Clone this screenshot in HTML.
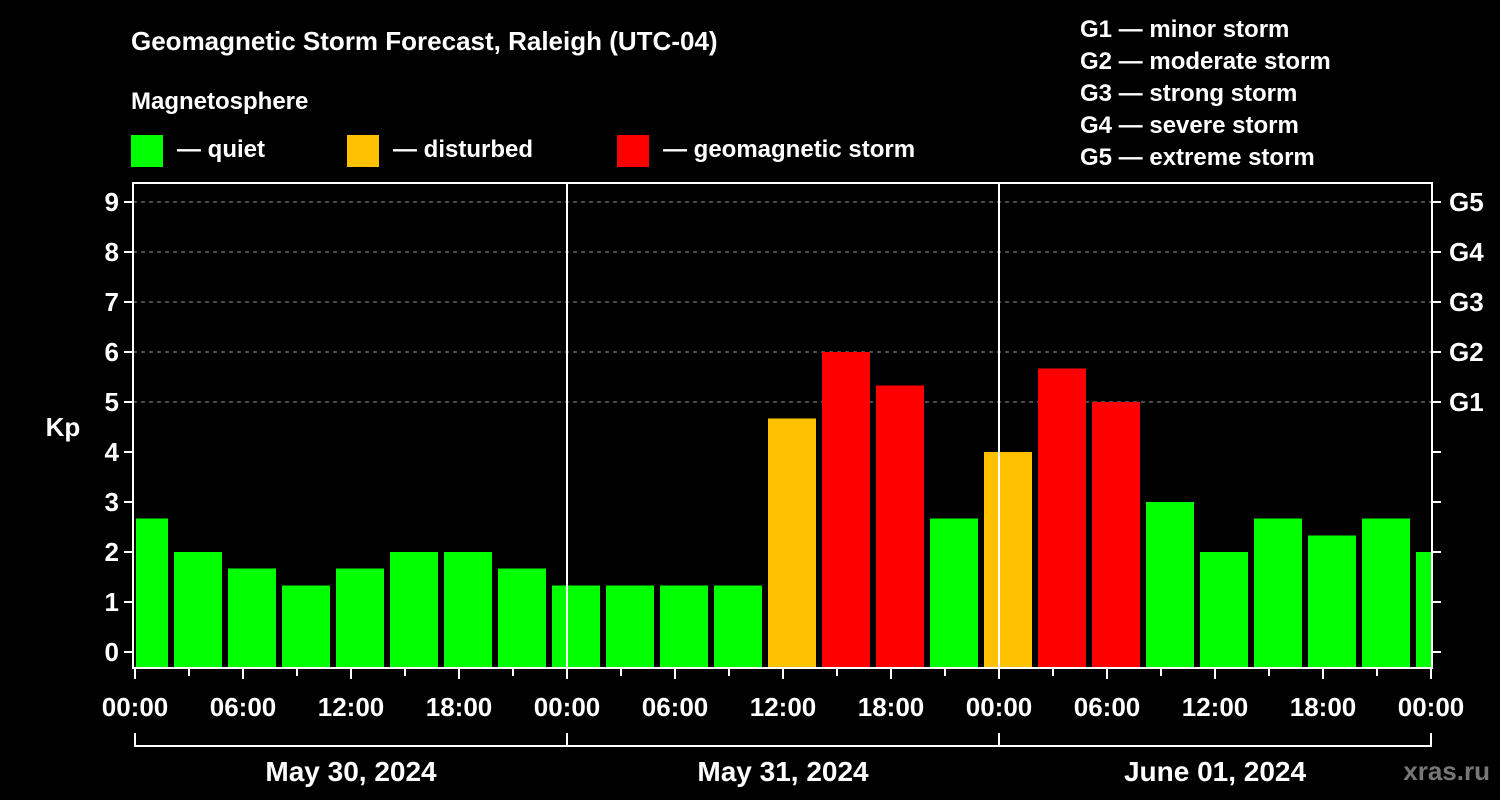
<!DOCTYPE html>
<html><head><meta charset="utf-8"><style>
body{margin:0;background:#000;}
svg{display:block;font-family:"Liberation Sans",Arial,sans-serif;font-weight:bold;}
</style></head><body>
<svg id="c" width="1500" height="800" viewBox="0 0 1500 800">
<rect width="1500" height="800" fill="#000"/>
<text x="131" y="50" fill="#fff" font-size="26">Geomagnetic Storm Forecast, Raleigh (UTC-04)</text>
<text x="131" y="109" fill="#fff" font-size="24">Magnetosphere</text>
<g><rect x="131" y="135" width="32" height="32" fill="#00ff00"/><text x="177" y="157" fill="#fff" font-size="24">— quiet</text></g>
<g><rect x="347" y="135" width="32" height="32" fill="#ffc000"/><text x="393" y="157" fill="#fff" font-size="24">— disturbed</text></g>
<g><rect x="617" y="135" width="32" height="32" fill="#ff0000"/><text x="663" y="157" fill="#fff" font-size="24">— geomagnetic storm</text></g>
<g fill="#fff" font-size="24">
<text x="1080" y="37">G1 — minor storm</text>
<text x="1080" y="69">G2 — moderate storm</text>
<text x="1080" y="101">G3 — strong storm</text>
<text x="1080" y="133">G4 — severe storm</text>
<text x="1080" y="165">G5 — extreme storm</text>
</g>
<text x="63" y="436" fill="#fff" font-size="26" text-anchor="middle">Kp</text>
<text x="1490" y="780" fill="#777" font-size="26" text-anchor="end">xras.ru</text>
<g id="plot"></g>
</svg>
<script>
const kpValues=[2.67,2,1.67,1.33,1.67,2,2,1.67,1.33,1.33,1.33,1.33,4.67,6,5.33,2.67,4,5.67,5,3,2,2.67,2.33,2.67,2];
const dayLabels=["May 30, 2024","May 31, 2024","June 01, 2024"];
const hourLabels=["00:00","06:00","12:00","18:00"];
const gLabels=["G1","G2","G3","G4","G5"];
const NS="http://www.w3.org/2000/svg";
const L=133,R=1432,T=183,B=668;
const x=h=>135+h*18;
const y=v=>652-v*50;
function mk(t,a,p){const e=document.createElementNS(NS,t);for(const k in a)e.setAttribute(k,a[k]);(p||g).appendChild(e);return e;}
const g=document.getElementById('plot');
const defs=mk('defs',{});const cp=mk('clipPath',{id:'cl'},defs);mk('rect',{x:L+3,y:T,width:R-L-4,height:B-T},cp);
// grid
for(let v=5;v<=9;v++){const e=mk('line',{x1:L,x2:R,y1:y(v),y2:y(v),stroke:'#999','stroke-dasharray':'4,4','stroke-width':1});

}
// bars
const bg=mk('g',{'clip-path':'url(#cl)'});
kpValues.forEach((v,k)=>{const col=v>=5?'#ff0000':(v>=4?'#ffc000':'#00ff00');
const x0=x(3*k-1)+3,x1=x(3*k+2)-3;
const e=mk('rect',{x:x0,y:y(v),width:x1-x0,height:B-y(v),fill:col},bg);

});
// day separators
for(let d=1;d<3;d++){const e=mk('line',{x1:x(24*d),x2:x(24*d),y1:T,y2:B,stroke:'#fff','stroke-width':2});

}
// frame
const f=mk('path',{d:`M${L},${T}H${R}V${B}H${L}Z`,fill:'none',stroke:'#fff','stroke-width':2});


// y ticks
for(let v=0;v<=9;v++){mk('line',{x1:L-9,x2:L,y1:y(v),y2:y(v),stroke:'#fff','stroke-width':2});
mk('line',{x1:R,x2:R+9,y1:y(v),y2:y(v),stroke:'#fff','stroke-width':2});
const t=mk('text',{x:L-14,y:y(v)+9,fill:'#fff','font-size':26,'text-anchor':'end'});t.textContent=v;

}
gLabels.forEach((s,i)=>{const t=mk('text',{x:R+17,y:y(i+5)+9,fill:'#fff','font-size':26});t.textContent=s;

});
// x ticks
for(let h=0;h<=72;h+=3){const maj=h%6===0;mk('line',{x1:x(h),x2:x(h),y1:B,y2:B+(maj?11:8),stroke:'#fff','stroke-width':2});
if(maj){const t=mk('text',{x:x(h),y:716,fill:'#fff','font-size':26,'text-anchor':'middle'});t.textContent=hourLabels[(h/6)%4];

}}
// date bracket
mk('path',{d:`M${x(0)},733V746H${x(72)}V733M${x(24)},733V746M${x(48)},733V746`,fill:'none',stroke:'#fff','stroke-width':2});
dayLabels.forEach((s,d)=>{const t=mk('text',{x:x(24*d+12),y:781,fill:'#fff','font-size':28,'text-anchor':'middle'});t.textContent=s;

});
</script>
</body></html>
